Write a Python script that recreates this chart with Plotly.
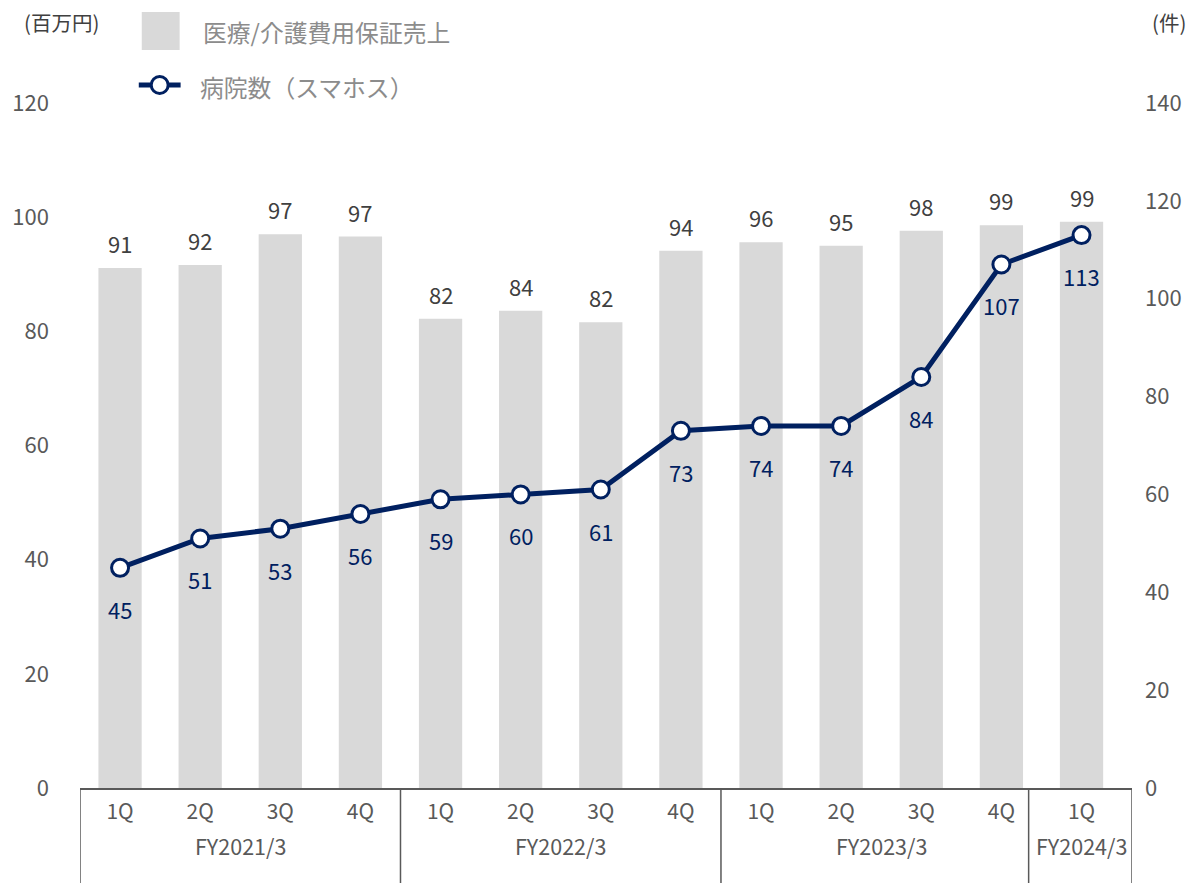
import plotly.graph_objects as go

# ---- data ----
quarters = ["1Q", "2Q", "3Q", "4Q", "1Q", "2Q", "3Q", "4Q", "1Q", "2Q", "3Q", "4Q", "1Q"]
fiscal_years = ["FY2021/3"] * 4 + ["FY2022/3"] * 4 + ["FY2023/3"] * 4 + ["FY2024/3"]
sales = [91.1, 91.6, 97.0, 96.6, 82.2, 83.6, 81.6, 94.1, 95.6, 95.0, 97.6, 98.6, 99.2]
hospitals = [45, 51, 53, 56, 59, 60, 61, 73, 74, 74, 84, 107, 113]
left_ticks = [0, 20, 40, 60, 80, 100, 120]
right_ticks = [0, 20, 40, 60, 80, 100, 120, 140]

bar_name = "医療/介護費用保証売上"
line_name = "病院数（スマホス）"
left_title = "(百万円)"
right_title = "(件)"

# ---- styles ----
FONT = "Noto Sans CJK JP, Noto Sans, sans-serif"
BAR_C = "#d9d9d9"
NAVY = "#002060"
GREY_T = "#595959"
DARK_T = "#404040"
LEG_T = "#8c8c8c"

W, H = 1194, 883
ML, MR, MT, MB = 80, 58, 103, 95
PW = W - ML - MR
PH = H - MT - MB

X_MIN, X_MAX = -0.5, 12.63


def px_x(px):
    return (px - ML) / PW


def px_y(py):
    return (H - MB - py) / PH


xs = list(range(len(quarters)))

fig = go.Figure()
fig.add_trace(go.Bar(
    x=xs, y=sales, name=bar_name, marker=dict(color=BAR_C, line=dict(width=0)),
    width=0.54, yaxis="y", showlegend=False, hoverinfo="y",
))
fig.add_trace(go.Scatter(
    x=xs, y=hospitals, name=line_name, yaxis="y2", mode="lines+markers",
    line=dict(color=NAVY, width=5),
    marker=dict(symbol="circle", size=17, color="white", line=dict(color=NAVY, width=3)),
    showlegend=False,
))

annotations = []
for i, v in enumerate(sales):
    annotations.append(dict(x=i, y=v, xref="x", yref="y", text=str(round(v)), showarrow=False,
                            yshift=25, font=dict(family=FONT, size=22, color=DARK_T)))
for i, v in enumerate(hospitals):
    annotations.append(dict(x=i, y=v, xref="x", yref="y2", text=str(v), showarrow=False,
                            yshift=-41, font=dict(family=FONT, size=22, color=NAVY)))

# fiscal-year group labels and separators
groups = []
for i, fy in enumerate(fiscal_years):
    if not groups or groups[-1][0] != fy:
        groups.append([fy, i, i])
    else:
        groups[-1][2] = i
for fy, a, b in groups:
    annotations.append(dict(x=(a + b) / 2, y=px_y(845), xref="x", yref="paper", text=fy,
                            xanchor="center", yanchor="middle",
                            showarrow=False, font=dict(family=FONT, size=21.5, color=GREY_T)))

sep_positions = [X_MIN, 3.5, 7.5, 11.34, X_MAX]
shapes = []
for sx in sep_positions:
    shapes.append(dict(type="line", xref="x", yref="paper", x0=sx, x1=sx, y0=0, y1=px_y(H + 2),
                       line=dict(color=GREY_T, width=1.5)))

# axis unit titles
annotations.append(dict(x=px_x(61), y=px_y(22), xref="paper", yref="paper", text=left_title,
                        xanchor="center", yanchor="middle",
                        showarrow=False, font=dict(family=FONT, size=20.5, color=DARK_T)))
annotations.append(dict(x=px_x(1173), y=px_y(22), xref="paper", yref="paper", text=right_title,
                        xanchor="center", yanchor="middle",
                        showarrow=False, font=dict(family=FONT, size=20.5, color=DARK_T)))

# manual legend
shapes.append(dict(type="rect", xref="paper", yref="paper", x0=px_x(142), x1=px_x(180),
                   y0=px_y(50), y1=px_y(12), fillcolor=BAR_C, line=dict(width=0)))
shapes.append(dict(type="line", xref="paper", yref="paper", x0=px_x(139), x1=px_x(181),
                   y0=px_y(85), y1=px_y(85), line=dict(color=NAVY, width=5)))
shapes.append(dict(type="circle", xref="paper", yref="paper", x0=px_x(151.5), x1=px_x(168.5),
                   y0=px_y(93.5), y1=px_y(76.5), fillcolor="white", line=dict(color=NAVY, width=3)))
annotations.append(dict(x=px_x(201), y=px_y(32), xref="paper", yref="paper", text=bar_name,
                        xanchor="left", yanchor="middle",
                        showarrow=False, font=dict(family=FONT, size=23.8, color=LEG_T)))
annotations.append(dict(x=px_x(198), y=px_y(86), xref="paper", yref="paper", text=line_name,
                        xanchor="left", yanchor="middle",
                        showarrow=False, font=dict(family=FONT, size=23.8, color=LEG_T)))

fig.update_layout(
    width=W, height=H,
    margin=dict(l=ML, r=MR, t=MT, b=MB, pad=0),
    paper_bgcolor="white", plot_bgcolor="white",
    font=dict(family=FONT, color=GREY_T),
    bargap=0.46,
    xaxis=dict(
        range=[X_MIN, X_MAX], tickvals=xs, ticktext=quarters, showgrid=False, zeroline=False,
        showline=True, linecolor=GREY_T, linewidth=1.5, ticks="", ticklabelstandoff=4,
        tickfont=dict(family=FONT, size=21, color=GREY_T), fixedrange=True,
    ),
    yaxis=dict(
        range=[0, 120], tickvals=left_ticks, showgrid=False, zeroline=False, showline=False,
        ticks="", ticklabelstandoff=30, tickfont=dict(family=FONT, size=22, color=GREY_T),
    ),
    yaxis2=dict(
        range=[0, 140], tickvals=right_ticks, overlaying="y", side="right", showgrid=False,
        zeroline=False, showline=False, ticks="", ticklabelstandoff=12,
        tickfont=dict(family=FONT, size=22, color=GREY_T),
    ),
    annotations=annotations,
    shapes=shapes,
    showlegend=False,
)

fig.write_html("out.html")
